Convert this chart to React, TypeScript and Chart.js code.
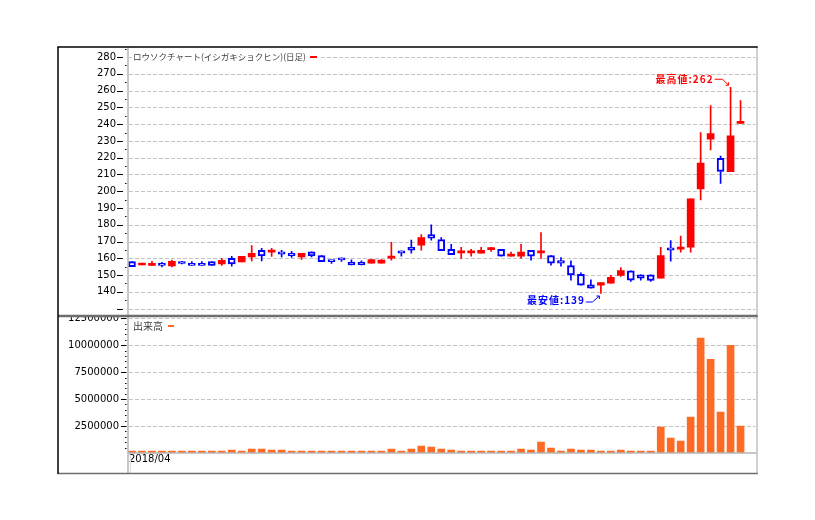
import React, { useEffect, useRef } from 'react';
import { Chart, registerables } from 'chart.js';

Chart.register(...registerables);

// ---- data ----
const categories: string[] = Array.from({ length: 63 }, (_, i) => `S${i + 1}`);
const xTickLabels: Record<number, string> = { 0: '2018/04' };

const opens = [158, 156, 155.7, 157, 155.5, 157.1, 157, 157, 158, 156.7, 160, 157.8, 160.8, 164.7, 163.7, 163.9, 163, 160.8, 163.9, 161.6, 158.2, 160.3, 157.7, 157.7, 157.1, 157.1, 160.1, 164.5, 166.5, 167.9, 174.2, 171.2, 165.3, 163.2, 163.2, 163.1, 165.2, 165.3, 161.3, 161.3, 164.7, 163.2, 161.7, 158.7, 155.7, 150.5, 144.2, 144, 145.2, 149.8, 152.5, 150.1, 150.1, 148.2, 166.3, 165.5, 166.6, 201.4, 231, 219.6, 211.6, 240.5];
const highs = [158, 157, 158.2, 157.6, 159, 158.2, 158, 158, 158, 160, 161.2, 161.2, 167.6, 165.9, 165.9, 164.7, 164.1, 163, 163.9, 161.6, 158.8, 160.3, 159.1, 158.5, 159.3, 159.3, 169.5, 164.5, 170.8, 174.2, 180, 172.4, 168.3, 166.5, 165.3, 166.5, 166.5, 165.3, 163.7, 168.3, 164.7, 175.4, 161.7, 160.5, 158.5, 151.3, 147.2, 145.6, 149.8, 154.5, 152.5, 150.1, 150.1, 166.5, 170.6, 173.2, 195.4, 235, 251, 221, 262, 254];
const lows = [155, 156, 155.7, 154.9, 154.9, 156.6, 155.7, 155.7, 155.7, 155.7, 155.3, 157.8, 158.4, 158.4, 161.2, 160.8, 160.6, 159.4, 160.8, 158, 156.9, 158.1, 156.1, 156.1, 157.1, 157.1, 158.9, 161.3, 163.1, 164.9, 170.8, 164.5, 162.1, 159.9, 161.3, 163.1, 164.1, 161.3, 161.3, 159.9, 158.9, 159.9, 155.9, 155.3, 147, 144, 142.2, 139, 145.2, 149.2, 146.2, 147, 146.2, 148.2, 158.3, 163.6, 163.6, 194.8, 224.6, 204.6, 211.6, 240.5];
const closes = [155, 156.3, 157, 155.7, 158.2, 156.9, 155.7, 155.7, 155.7, 158.8, 156.7, 161.2, 163, 161.4, 164.7, 162.5, 161.4, 163, 161.4, 158, 158, 159.1, 156.1, 156.1, 159.3, 158.9, 160.3, 163.1, 164.9, 172.4, 172, 164.5, 162.1, 163.4, 163.4, 164.7, 165.4, 161.3, 162.5, 163.7, 161.3, 163.4, 157.1, 157.1, 150.1, 144, 142.2, 145.6, 148.6, 152.7, 147, 148.2, 146.8, 161.7, 164.9, 165.7, 195.4, 216.8, 234.4, 211.8, 233, 240.7];
const volumes = [180000, 180000, 180000, 180000, 180000, 180000, 180000, 180000, 180000, 180000, 280000, 180000, 370000, 370000, 280000, 280000, 180000, 180000, 180000, 180000, 180000, 180000, 180000, 180000, 180000, 180000, 370000, 180000, 370000, 650000, 560000, 370000, 280000, 180000, 180000, 180000, 180000, 180000, 180000, 370000, 280000, 1020000, 460000, 180000, 370000, 280000, 280000, 180000, 180000, 280000, 180000, 180000, 180000, 2410000, 1390000, 1110000, 3330000, 10650000, 8700000, 3800000, 10000000, 2500000];

// axis ticks
const priceMin = 125.6;
const priceMax = 286;
const priceTickStep = 5;
const priceTickFirst = 130;
const priceTickLast = 285;
const priceLabelTicks = [140, 150, 160, 170, 180, 190, 200, 210, 220, 230, 240, 250, 260, 270, 280];
const volumeMax = 12710000;
const volumeTickStep = 500000;
const volumeTickLast = 12500000;
const volumeLabelTicks = [2500000, 5000000, 7500000, 10000000, 12500000];

const priceTitle = 'ロウソクチャート(イシガキショクヒン)(日足)';
const volumeTitle = '出来高';

const RED = '#ff0000';
const BLUE = '#0000ff';
const ORANGE = '#ff6a24';

function line(ctx: CanvasRenderingContext2D, x1: number, y1: number, x2: number, y2: number) {
  ctx.beginPath();
  ctx.moveTo(x1, y1);
  ctx.lineTo(x2, y2);
  ctx.stroke();
}

const decor = {
  id: 'decor',
  beforeDatasetsDraw(chart: any) {
    const { ctx, chartArea } = chart;
    const y = chart.scales.y;
    const yv = chart.scales.yv;
    ctx.save();
    ctx.strokeStyle = '#c4c4c4';
    ctx.lineWidth = 1;
    ctx.setLineDash([4, 2]);
    for (const t of y.ticks) {
      const v = Math.round(t.value);
      if (v % 10 !== 0) continue;
      const py = Math.round(y.getPixelForValue(v)) + 0.5;
      line(ctx, chartArea.left + 2, py, chartArea.right, py);
    }
    for (const t of yv.ticks) {
      const v = Math.round(t.value);
      if (v === 0 || v % 2500000 !== 0) continue;
      const py = Math.round(yv.getPixelForValue(v)) + 0.5;
      line(ctx, chartArea.left + 2, py, chartArea.right, py);
    }
    ctx.setLineDash([]);
    // legends (white background over grid)
    ctx.textBaseline = 'middle';
    ctx.textAlign = 'left';
    const tx = chartArea.left + 6;
    const ty = y.top + 10;
    ctx.font = '8.5px "Noto Sans CJK JP"';
    const tw = ctx.measureText(priceTitle).width;
    ctx.fillStyle = '#fff';
    ctx.fillRect(tx - 1, ty - 6, tw + 14, 12);
    ctx.fillStyle = '#404040';
    ctx.fillText(priceTitle, tx, ty);
    ctx.fillStyle = RED;
    ctx.fillRect(tx + tw + 4, ty - 1, 7, 2);
    const vy = yv.top + 10;
    ctx.font = '10px "Noto Sans CJK JP"';
    const vw = ctx.measureText(volumeTitle).width;
    ctx.fillStyle = '#404040';
    ctx.fillText(volumeTitle, tx, vy);
    ctx.fillStyle = ORANGE;
    ctx.fillRect(tx + vw + 5, vy - 1, 6, 2);
    ctx.restore();
  },
  afterDraw(chart: any) {
    const { ctx, chartArea } = chart;
    const y = chart.scales.y;
    const yv = chart.scales.yv;
    const x = chart.scales.x;
    const axisX = chartArea.left + 1;
    const frameL = 58;
    const frameR = chartArea.right + 1.5;
    const top = chartArea.top;
    const bottom = x.bottom;
    const sep = y.bottom;
    ctx.save();
    // hide clipped upper part of the top volume label
    ctx.fillStyle = '#fff';
    ctx.fillRect(frameL + 1, sep - 6, axisX - frameL - 2, 6);
    // tick marks
    ctx.strokeStyle = '#000';
    ctx.lineWidth = 1;
    for (const t of y.ticks) {
      const v = Math.round(t.value);
      const py = Math.round(y.getPixelForValue(v)) + 0.5;
      if (v % 10 === 0) line(ctx, axisX - 11, py, axisX - 5, py);
      else line(ctx, axisX - 3, py, axisX - 1.5, py);
    }
    for (const t of yv.ticks) {
      const v = Math.round(t.value);
      if (v === 0) continue;
      const py = Math.round(yv.getPixelForValue(v)) + 0.5;
      if (v % 2500000 === 0) line(ctx, axisX - 7, py, axisX - 1.5, py);
      else line(ctx, axisX - 3, py, axisX - 1.5, py);
    }
    // axis lines
    ctx.strokeStyle = '#b4b4b4';
    ctx.lineWidth = 1.5;
    line(ctx, axisX, top, axisX, bottom);
    line(ctx, axisX, yv.bottom, frameR, yv.bottom);
    ctx.strokeStyle = '#dcdcdc';
    ctx.lineWidth = 1;
    line(ctx, axisX + 2.5, yv.bottom + 2, axisX + 2.5, bottom);
    // frame
    ctx.strokeStyle = '#c0c0c0';
    ctx.lineWidth = 1.5;
    line(ctx, frameR, top, frameR, bottom);
    ctx.strokeStyle = '#6e6e6e';
    ctx.lineWidth = 1.5;
    line(ctx, frameL, bottom - 0.5, frameR + 0.75, bottom - 0.5);
    ctx.lineWidth = 2.5;
    line(ctx, frameL, sep, frameR + 0.75, sep);
    ctx.strokeStyle = '#000';
    ctx.lineWidth = 1.5;
    line(ctx, frameL - 0.75, top, frameR + 0.75, top);
    line(ctx, frameL, top, frameL, bottom);

    // annotations
    const hi = Math.max(...highs);
    const hiIdx = highs.indexOf(hi);
    const hx = x.getPixelForValue(hiIdx);
    const hy = y.getPixelForValue(hi);
    ctx.font = 'bold 10px "Noto Sans CJK JP"';
    (ctx as any).letterSpacing = '1px';
    ctx.textBaseline = 'middle';
    ctx.textAlign = 'right';
    ctx.fillStyle = RED;
    ctx.strokeStyle = RED;
    ctx.lineWidth = 1;
    ctx.fillText(`最高値:${hi}`, hx - 17, hy - 8);
    line(ctx, hx - 16, hy - 8, hx - 8, hy - 8);
    line(ctx, hx - 8, hy - 8, hx - 2, hy - 2);
    line(ctx, hx - 2, hy - 2, hx - 2, hy - 5);
    line(ctx, hx - 2, hy - 2, hx - 5, hy - 2);

    const lo = Math.min(...lows);
    const loIdx = lows.indexOf(lo);
    const lx = x.getPixelForValue(loIdx);
    const ly = y.getPixelForValue(lo);
    ctx.fillStyle = BLUE;
    ctx.strokeStyle = BLUE;
    ctx.fillText(`最安値:${lo}`, lx - 16, ly + 7);
    (ctx as any).letterSpacing = '0px';
    line(ctx, lx - 15, ly + 8.5, lx - 8.5, ly + 8.5);
    line(ctx, lx - 8.5, ly + 8.5, lx - 1.5, ly + 2.5);
    line(ctx, lx - 1.5, ly + 2.5, lx - 1.5, ly + 5.5);
    line(ctx, lx - 1.5, ly + 2.5, lx - 4.5, ly + 2.5);
    ctx.restore();
  },
};

export default function App() {
  const ref = useRef<HTMLCanvasElement>(null);
  useEffect(() => {
    const canvas = ref.current!;
    const up = closes.map((c, i) => c >= opens[i]);
    const tickFont = { family: 'DejaVu Sans', size: 10 };
    const chart = new Chart(canvas, {
      type: 'bar',
      data: {
        labels: categories,
        datasets: [
          {
            label: 'body',
            data: opens.map((o, i) => [o, closes[i]]) as any,
            yAxisID: 'y',
            grouped: false,
            barThickness: 7,
            minBarLength: 2,
            backgroundColor: up.map((u) => (u ? RED : '#ffffff')),
            borderColor: up.map((u) => (u ? RED : BLUE)),
            borderWidth: up.map((u) => (u ? 0 : 2)),
            borderSkipped: false,
            order: 0,
          } as any,
          {
            label: 'wick',
            data: lows.map((l, i) => [l, highs[i]]) as any,
            yAxisID: 'y',
            grouped: false,
            barThickness: 1,
            backgroundColor: up.map((u) => (u ? RED : BLUE)),
            borderWidth: 0,
            order: 1,
          } as any,
          {
            label: 'volume',
            data: volumes,
            yAxisID: 'yv',
            grouped: false,
            barThickness: 7,
            backgroundColor: ORANGE,
            borderWidth: 0,
            order: 2,
          } as any,
        ],
      },
      options: {
        responsive: false,
        animation: false,
        devicePixelRatio: 1,
        layout: { padding: { left: 58, right: 59.5, top: 47, bottom: 46 } },
        plugins: { legend: { display: false }, tooltip: { enabled: false }, title: { display: false } },
        scales: {
          x: {
            type: 'category',
            offset: true,
            grid: { display: false, drawTicks: false },
            border: { display: false },
            ticks: {
              autoSkip: false,
              maxRotation: 0,
              minRotation: 0,
              align: 'start',
              labelOffset: -3,
              padding: 0,
              color: '#000',
              font: tickFont,
              callback: (_v: any, i: number) => xTickLabels[i] ?? '',
            },
            afterFit: (s: any) => {
              s.height = 21;
            },
          },
          yv: {
            type: 'linear',
            position: 'left',
            stack: 'panels',
            stackWeight: 137,
            min: 0,
            max: volumeMax,
            grid: { display: false, drawTicks: false },
            border: { display: false },
            afterBuildTicks: (s: any) => {
              const t: { value: number }[] = [];
              for (let v = volumeTickStep; v <= volumeTickLast; v += volumeTickStep) t.push({ value: v });
              s.ticks = t;
            },
            ticks: {
              autoSkip: false,
              padding: 8,
              color: '#000',
              font: tickFont,
              callback: (v: any) => (volumeLabelTicks.includes(Math.round(v)) ? String(Math.round(v)) : ''),
            },
            afterFit: (s: any) => {
              s.width = 69;
            },
          },
          y: {
            type: 'linear',
            position: 'left',
            stack: 'panels',
            stackWeight: 269,
            min: priceMin,
            max: priceMax,
            grid: { display: false, drawTicks: false },
            border: { display: false },
            afterBuildTicks: (s: any) => {
              const t: { value: number }[] = [];
              for (let v = priceTickFirst; v <= priceTickLast; v += priceTickStep) t.push({ value: v });
              s.ticks = t;
            },
            ticks: {
              autoSkip: false,
              padding: 11,
              color: '#000',
              font: tickFont,
              callback: (v: any) => (priceLabelTicks.includes(Math.round(v)) ? String(Math.round(v)) : ''),
            },
            afterFit: (s: any) => {
              s.width = 69;
            },
          },
        } as any,
      },
      plugins: [decor],
    });
    return () => chart.destroy();
  }, []);
  return (
    <div style={{ position: 'fixed', left: 0, top: 0, width: 815, height: 520, background: '#fff' }}>
      <canvas ref={ref} width={815} height={520} style={{ display: 'block', width: 815, height: 520 }} />
    </div>
  );
}
